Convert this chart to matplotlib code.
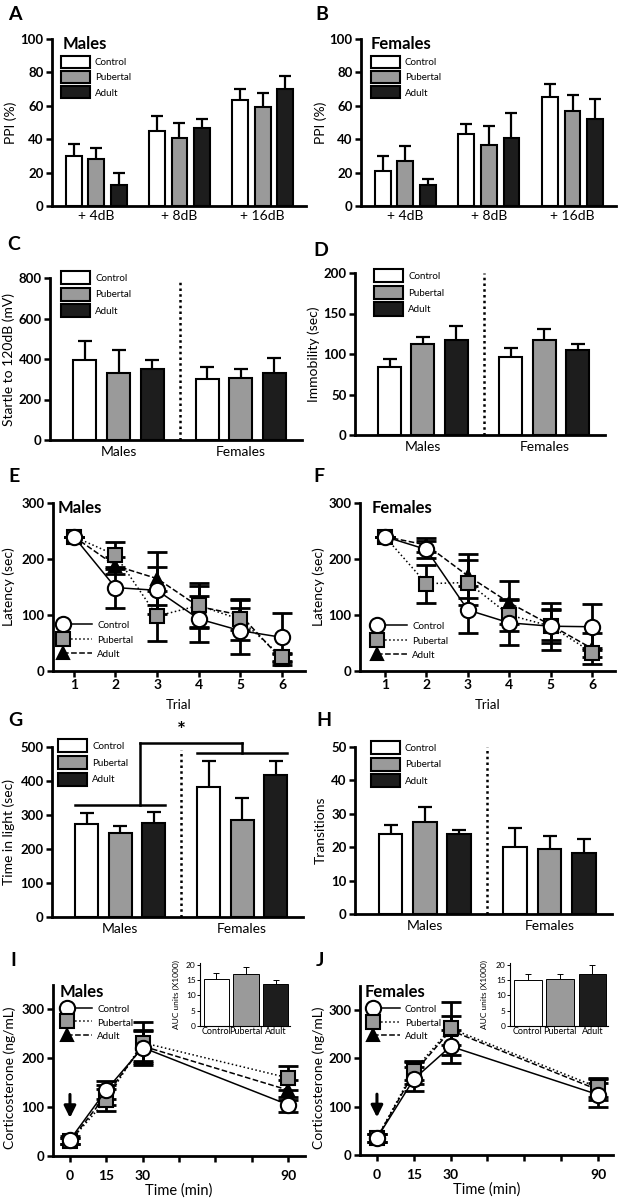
import numpy as np
import matplotlib
matplotlib.use("Agg")
import matplotlib.pyplot as plt
from matplotlib.legend_handler import HandlerLine2D
from matplotlib.lines import Line2D

plt.rcParams['font.family'] = ['Lato', 'DejaVu Sans']

W, H = 620, 1200

# ---------------- data ----------------
groups = ['Control', 'Pubertal', 'Adult']

ppi_levels = ['+ 4dB', '+ 8dB', '+ 16dB']
ppi_males = [[30, 45, 63.5], [28, 41, 59], [12.5, 47, 70]]
ppi_males_err = [[7, 9, 6.5], [7, 8.5, 8.5], [7.5, 5, 8]]
ppi_females = [[21, 43, 65], [27, 36.5, 57], [12.5, 41, 52]]
ppi_females_err = [[9, 6, 8], [9, 11.5, 9.5], [3.5, 14.5, 12]]

sexes = ['Males', 'Females']
startle = [[393, 300], [333, 305], [350, 333]]
startle_err = [[94, 61], [109, 46], [46, 70]]
immobility = [[84, 96], [112, 117], [117.5, 105]]
immobility_err = [[10, 11], [9.5, 14], [16.5, 7.5]]
light_time = [[273, 382], [246, 285], [276, 418]]
light_time_err = [[32, 78], [23, 64], [34, 42]]
transitions = [[23.9, 20.1], [27.6, 19.4], [24.1, 18.4]]
transitions_err = [[2.7, 5.5], [4.4, 3.9], [1.0, 4.2]]

trials = [1, 2, 3, 4, 5, 6]
latency_males = [[240, 149, 144, 93, 72, 60],
                 [240, 207, 98, 117, 92, 25],
                 [240, 188, 165, 115, 100, 20]]
latency_males_err = [[0, 37, 42, 41, 41, 44],
                     [0, 24, 45, 41, 36, 8],
                     [0, 15, 48, 37, 26, 10]]
latency_females = [[240, 217, 109, 86, 80, 79],
                   [240, 156, 158, 100, 80, 33],
                   [240, 225, 170, 122, 82, 40]]
latency_females_err = [[0, 15, 42, 40, 42, 41],
                       [0, 34, 40, 28, 30, 8],
                       [0, 12, 39, 38, 27, 28]]

times = [0, 15, 30, 90]
cort_males = [[33, 135, 222, 105], [30, 115, 232, 160], [30, 125, 225, 135]]
cort_males_err = [[8, 18, 35, 15], [6, 22, 42, 25], [6, 20, 30, 20]]
cort_females = [[35, 157, 225, 125], [35, 175, 262, 140], [35, 170, 258, 135]]
cort_females_err = [[8, 25, 34, 25], [8, 20, 55, 20], [8, 22, 30, 22]]

auc_males = [15.2, 17.0, 13.8]
auc_males_err = [2.1, 2.1, 1.2]
auc_females = [14.9, 15.2, 16.8]
auc_females_err = [1.9, 1.8, 3.0]

# ---------------- styling ----------------
bar_colors = ['white', '#9a9a9a', '#1d1d1d']
markers = ['o', 's', '^']
linestyles = ['-', ':', '--']
marker_faces = ['white', '#9a9a9a', 'black']
marker_sizes = [11, 10, 9]
zorders = [5, 4, 3]

fig = plt.figure(figsize=(W / 100, H / 100), dpi=100)


def add_axes_px(l, t, r, b):
    return fig.add_axes([l / W, 1 - b / H, (r - l) / W, (b - t) / H])


def style(ax, yticks, lw=2.0, ticklen=4, tickw=1.8, ysize=9.5):
    for s in ['top', 'right']:
        ax.spines[s].set_visible(False)
    for s in ['left', 'bottom']:
        ax.spines[s].set_linewidth(lw)
    ax.tick_params(axis='both', direction='out', length=ticklen, width=tickw)
    ax.tick_params(axis='y', pad=2)
    ax.set_yticks(yticks)
    ax.set_yticklabels([str(t) for t in yticks], fontsize=ysize, fontweight='bold')


def bar_panel(ax, cats, means, errs, width, step, capsize, xsize=9.5, pad=4):
    x = np.arange(len(cats))
    handles = []
    for i, g in enumerate(groups):
        pos = x + (i - 1) * step
        ax.errorbar(pos, means[i], yerr=errs[i], fmt='none', ecolor='black',
                    elinewidth=1.6, capsize=capsize, capthick=1.6, zorder=1)
        h = ax.bar(pos, means[i], width, color=bar_colors[i], edgecolor='black',
                   linewidth=1.5, zorder=2, label=g)
        handles.append(h)
    ax.set_xticks(x)
    ax.set_xticklabels(cats, fontsize=xsize)
    ax.tick_params(axis='x', length=0, pad=pad)
    return handles


def bar_legend(ax, handles, anchor, hh, ls):
    ax.legend(handles=handles, loc='upper left', bbox_to_anchor=anchor,
              frameon=False, fontsize=7, handlelength=3.0, handleheight=hh,
              labelspacing=ls, handletextpad=0.5, borderpad=0, borderaxespad=0)


class HandlerMarkerLeft(HandlerLine2D):
    def create_artists(self, legend, orig_handle, xdescent, ydescent,
                       width, height, fontsize, trans):
        y = (height - ydescent) / 2
        x0 = -xdescent
        line = Line2D([x0, x0 + width], [y, y])
        self.update_prop(line, orig_handle, legend)
        line.set_marker('None')
        mk = Line2D([x0], [y])
        self.update_prop(mk, orig_handle, legend)
        mk.set_linestyle('None')
        line.set_transform(trans)
        mk.set_transform(trans)
        return [line, mk]


def line_panel(ax, x, means, errs, capsize):
    handles = []
    for i, g in enumerate(groups):
        ax.errorbar(x, means[i], yerr=errs[i], fmt='none', ecolor='black',
                    elinewidth=2, capsize=capsize, capthick=2, zorder=2)
        (h,) = ax.plot(x, means[i], linestyle=linestyles[i], color='black', lw=1.1,
                       marker=markers[i], ms=marker_sizes[i], mfc=marker_faces[i],
                       mec='black', mew=1.5, zorder=zorders[i], label=g)
        handles.append(h)
    return handles


def line_legend(ax, handles, anchor, hl, spacing=0.4):
    ax.legend(handles=handles, loc='upper left', bbox_to_anchor=anchor,
              frameon=False, fontsize=7, handlelength=hl, handleheight=1.3,
              labelspacing=spacing, handletextpad=0.5, borderpad=0, borderaxespad=0,
              handler_map={h: HandlerMarkerLeft() for h in handles})


def label_px(x, y, s, size=13, weight='bold', ha='left'):
    fig.text(x / W, 1 - y / H, s, ha=ha, va='center', fontsize=size, fontweight=weight)


def dotted_sep(ax, top):
    ax.plot([0.5, 0.5], [0, top], linestyle=(0, (1, 1.3)), color='black', lw=1.8, zorder=0)


# ---------------- panels A, B ----------------
for (l, t, r, b), means, errs, title, tx, anc, lx in [
        ((52, 39, 306, 206), ppi_males, ppi_males_err, 'Males', 63, (0.035, 0.898), -0.138),
        ((361, 39, 616, 206), ppi_females, ppi_females_err, 'Females', 371, (0.039, 0.898), -0.133)]:
    ax = add_axes_px(l, t, r, b)
    style(ax, [0, 20, 40, 60, 80, 100])
    hs = bar_panel(ax, ppi_levels, means, errs, 0.19, 0.27, 4, xsize=10, pad=3)
    ax.set_xlim(-0.53, 2.52)
    ax.set_ylim(0, 100)
    ax.set_ylabel('PPI (%)', fontsize=10)
    ax.yaxis.set_label_coords(lx, 0.5)
    bar_legend(ax, hs, anc, 1.55, 0.3)
    label_px(tx, 44, title, size=12)

# ---------------- panels C, D, G, H ----------------
specs = [
    ((50, 278, 302, 440), startle, startle_err, [0, 200, 400, 600, 800], 800,
     'Startle to 120dB (mV)', -0.139, (0.044, 1.043), 1.7, 0.36, 784),
    ((355, 273, 605, 435), immobility, immobility_err, [0, 50, 100, 150, 200], 200,
     'Immobility (sec)', -0.14, (0.076, 1.025), 1.75, 0.34, 200),
    ((52, 747, 303, 917), light_time, light_time_err, [0, 100, 200, 300, 400, 500], 500,
     'Time in light (sec)', -0.147, (0.024, 1.047), 1.75, 0.34, 492),
    ((355, 747, 612, 914), transitions, transitions_err, [0, 10, 20, 30, 40, 50], 50,
     'Transitions', -0.11, (0.062, 1.036), 1.7, 0.36, 50),
]
axes_cdgh = []
for (l, t, r, b), means, errs, yt, ymax, yl, lx, anc, hh, ls, septop in specs:
    ax = add_axes_px(l, t, r, b)
    style(ax, yt)
    hs = bar_panel(ax, sexes, means, errs, 0.19, 0.275, 5, xsize=10, pad=4)
    ax.set_xlim(-0.56, 1.5)
    ax.set_ylim(0, ymax)
    ax.set_ylabel(yl, fontsize=10)
    ax.yaxis.set_label_coords(lx, 0.5)
    bar_legend(ax, hs, anc, hh, ls)
    dotted_sep(ax, septop)
    axes_cdgh.append(ax)

# significance bracket on G
axG = axes_cdgh[2]
bar_w, bar_step = 0.19, 0.275
sig_male_y, sig_female_y, sig_top_y, sig_star_y = 330, 482, 512, 548
male_vert_x, female_vert_x = 0.16, 1.0
span = bar_step + bar_w / 2
kw = dict(color='black', lw=1.8, clip_on=False, zorder=6)
axG.plot([0 - span, 0 + span], [sig_male_y] * 2, **kw)
axG.plot([1 - span, 1 + span], [sig_female_y] * 2, **kw)
axG.plot([male_vert_x, male_vert_x], [sig_male_y, sig_top_y], **kw)
axG.plot([female_vert_x, female_vert_x], [sig_female_y, sig_top_y], **kw)
axG.plot([male_vert_x, female_vert_x], [sig_top_y] * 2, **kw)
axG.text(0.5, sig_star_y, '*', ha='center', va='center', fontsize=15, fontweight='bold',
         clip_on=False)

# ---------------- panels E, F ----------------
for (l, t, r, b), means, errs, title, tx, anc, lx, xl0, hl in [
        ((53, 503, 305, 671), latency_males, latency_males_err, 'Males', 58,
         (0.040, 0.305), -0.15, 0.5, 3.0),
        ((360, 503, 615, 671), latency_females, latency_females_err, 'Females', 372,
         (0.067, 0.299), -0.137, 0.4, 3.1)]:
    ax = add_axes_px(l, t, r, b)
    style(ax, [0, 100, 200, 300])
    hs = line_panel(ax, trials, means, errs, 7)
    ax.set_xlim(xl0, 6.55)
    ax.set_ylim(0, 300)
    ax.set_xticks(trials)
    ax.set_xticklabels([str(v) for v in trials], fontsize=10, fontweight='bold')
    ax.tick_params(axis='x', pad=2)
    ax.set_ylabel('Latency (sec)', fontsize=10)
    ax.yaxis.set_label_coords(lx, 0.5)
    ax.set_xlabel('Trial', fontsize=9.5)
    ax.xaxis.set_label_coords(0.5, -0.165)
    line_legend(ax, hs, anc, hl)
    label_px(tx, 508, title, size=12)

# ---------------- panels I, J ----------------
for (l, t, r, b), means, errs, title, tx, anc, lx, xlim, inset, auc, auc_err, hl in [
        ((53, 985, 305, 1156), cort_males, cort_males_err, 'Males', 60, (0.056, 0.891),
         -0.147, (-7, 97), (200, 963, 290, 1026), auc_males, auc_males_err, 2.6),
        ((360, 986, 613, 1155), cort_females, cort_females_err, 'Females', 365, (0.051, 0.895),
         -0.138, (-6.9, 96.1), (510, 963, 608, 1026), auc_females, auc_females_err, 2.8)]:
    ax = add_axes_px(l, t, r, b)
    style(ax, [0, 100, 200, 300])
    hs = line_panel(ax, times, means, errs, 7)
    ax.set_xlim(*xlim)
    ax.set_ylim(0, 350)
    ax.set_xticks([0, 15, 30, 45, 60, 75, 90])
    ax.set_xticklabels(['0', '15', '30', '', '', '', '90'], fontsize=10, fontweight='bold')
    ax.tick_params(axis='x', pad=6)
    ax.set_ylabel('Corticosterone (ng/mL)', fontsize=10)
    ax.yaxis.set_label_coords(lx, 0.46)
    ax.set_xlabel('Time (min)', fontsize=10.5, labelpad=1)
    line_legend(ax, hs, anc, hl, spacing=0.3)
    label_px(tx, 992, title, size=12)
    ax.annotate('', xy=(0, 78), xytext=(0, 126),
                arrowprops=dict(arrowstyle='-|>,head_width=0.35,head_length=0.7',
                                lw=2.2, color='black', shrinkA=0, shrinkB=0))
    # inset
    axi = add_axes_px(*inset)
    for s in ['top', 'right']:
        axi.spines[s].set_visible(False)
    for s in ['left', 'bottom']:
        axi.spines[s].set_linewidth(0.8)
    xi = np.arange(3)
    axi.errorbar(xi, auc, yerr=auc_err, fmt='none', ecolor='black', elinewidth=0.7,
                 capsize=2.5, capthick=0.7, zorder=1)
    axi.bar(xi, auc, 0.85, color=bar_colors, edgecolor='black', linewidth=0.7, zorder=2)
    axi.set_xlim(-0.55, 2.48)
    axi.set_ylim(0, 20.5)
    axi.set_yticks([0, 5, 10, 15, 20])
    axi.set_yticklabels(['0', '5', '10', '15', '20'], fontsize=6)
    axi.set_xticks(xi)
    axi.set_xticklabels(groups, fontsize=6.5)
    axi.tick_params(axis='x', length=0, pad=1)
    axi.tick_params(axis='y', length=2, width=0.7, pad=1)
    axi.set_ylabel('AUC units (X1000)', fontsize=6)
    axi.yaxis.set_label_coords(-0.22, 0.5)

# ---------------- panel letters ----------------
for s, x, y in [('A', 8, 14), ('B', 315, 14), ('C', 7, 244), ('D', 313, 250),
                ('E', 8, 477), ('F', 313, 477), ('G', 8, 721), ('H', 316, 720),
                ('I', 10, 960), ('J', 316, 960)]:
    label_px(x, y, s, size=14)

fig.savefig('out.png', dpi=100)
